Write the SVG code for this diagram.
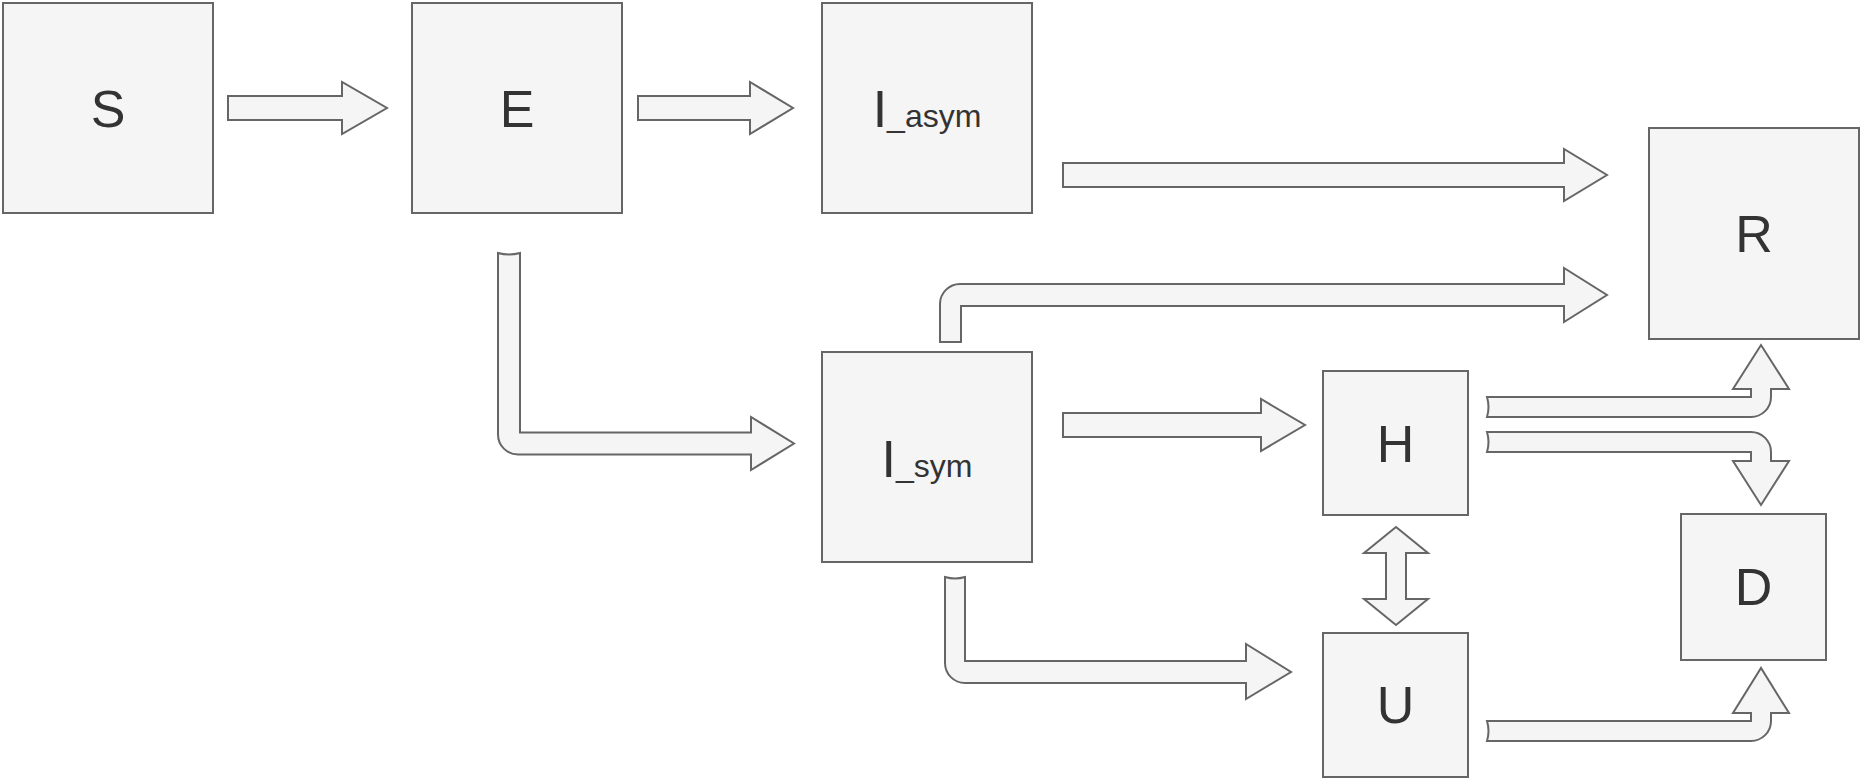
<svg xmlns="http://www.w3.org/2000/svg" width="1863" height="779" viewBox="0 0 1863 779">
<style>
.box{fill:#f5f5f5;stroke:#666666;stroke-width:2}
.arr{fill:#f5f5f5;stroke:#666666;stroke-width:2;stroke-linejoin:miter}
.lbl{font-family:"Liberation Sans",Arial,Helvetica,sans-serif;fill:#333333;text-anchor:middle;font-size:52px}
.sub{font-size:32px}
</style>
<rect width="1863" height="779" fill="#ffffff"/>
<g id="connectors">
<path id="S-E" class="arr" d="M228,96 L342,96 L342,82 L387,108 L342,134 L342,120 L228,120 Z"/>
<path id="E-Iasym" class="arr" d="M638,96 L750,96 L750,82 L793,108 L750,134 L750,120 L638,120 Z"/>
<path id="Iasym-R" class="arr" d="M1063,163 L1564,163 L1564,149 L1607,175 L1564,201 L1564,187 L1063,187 Z"/>
<path id="Isym-H" class="arr" d="M1063,413 L1261,413 L1261,399 L1305,425 L1261,451 L1261,437 L1063,437 Z"/>
<path id="E-Isym" class="arr" d="M498,253 Q509,256 520,253 L520,432.5 L751,432.5 L751,417 L794,443.5 L751,470 L751,454.5 L518,454.5 A20,20 0 0 1 498,434.5 Z"/>
<path id="Isym-U" class="arr" d="M945,577 Q955,580 965,577 L965,661 L1246,661 L1246,644 L1291,672 L1246,699 L1246,683 L965,683 A20,20 0 0 1 945,663 Z"/>
<path id="Isym-R" class="arr" d="M940,342 L940,304 A20,20 0 0 1 960,284 L1564,284 L1564,268 L1607,295 L1564,322 L1564,306 L961,306 L961,342 Z"/>
<path id="H-R" class="arr" d="M1487,397 L1751,397 L1751,389 L1733,389 L1761,345 L1789,389 L1771,389 L1771,397 A20,20 0 0 1 1751,417 L1487,417 Q1490,407 1487,397 Z"/>
<path id="H-D" class="arr" d="M1487,432 L1751,432 A20,20 0 0 1 1771,452 L1771,461 L1789,461 L1761,505 L1733,461 L1751,461 L1751,452 L1487,452 Q1490,442 1487,432 Z"/>
<path id="U-D" class="arr" d="M1487,721 L1751,721 L1751,713 L1733,713 L1761,668 L1789,713 L1771,713 L1771,721 A20,20 0 0 1 1751,741 L1487,741 Q1490,731 1487,721 Z"/>
<path id="H-U" class="arr" d="M1396,527 L1428,553 L1406,553 L1406,599 L1428,599 L1396,625 L1364,599 L1386,599 L1386,553 L1364,553 Z"/>
</g>
<g id="node-S"><rect class="box" x="3" y="3" width="210" height="210"/><text class="lbl" x="108" y="127">S</text></g>
<g id="node-E"><rect class="box" x="412" y="3" width="210" height="210"/><text class="lbl" x="517" y="127">E</text></g>
<g id="node-Iasym"><rect class="box" x="822" y="3" width="210" height="210"/><text class="lbl" x="927" y="127"><tspan>I</tspan><tspan class="sub">_asym</tspan></text></g>
<g id="node-R"><rect class="box" x="1649" y="128" width="210" height="211"/><text class="lbl" x="1754" y="252">R</text></g>
<g id="node-Isym"><rect class="box" x="822" y="352" width="210" height="210"/><text class="lbl" x="927" y="477"><tspan>I</tspan><tspan class="sub">_sym</tspan></text></g>
<g id="node-H"><rect class="box" x="1323" y="371" width="145" height="144"/><text class="lbl" x="1395.5" y="462">H</text></g>
<g id="node-U"><rect class="box" x="1323" y="633" width="145" height="144"/><text class="lbl" x="1395.5" y="723">U</text></g>
<g id="node-D"><rect class="box" x="1681" y="514" width="145" height="146"/><text class="lbl" x="1753.5" y="605">D</text></g>
</svg>
